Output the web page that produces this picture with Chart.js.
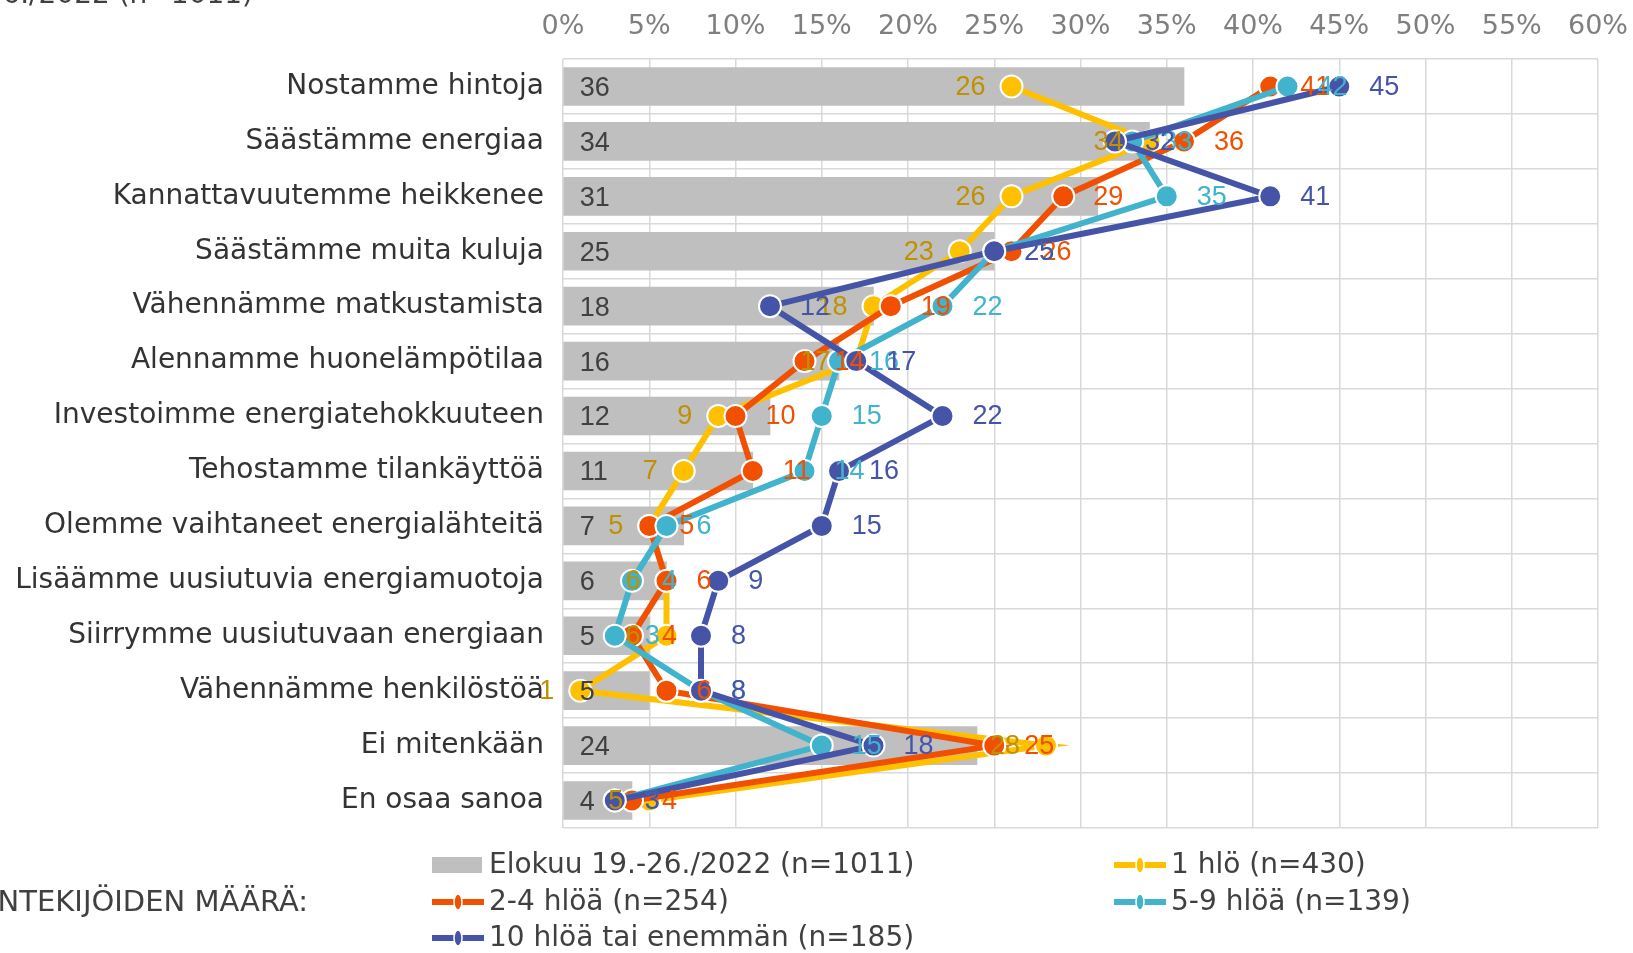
<!DOCTYPE html>
<html>
<head>
<meta charset="utf-8">
<script src="https://cdn.jsdelivr.net/npm/chart.js@4.4.0/dist/chart.umd.min.js"></script>
<style>
  html, body { margin: 0; padding: 0; background: #fff; }
  #wrap { width: 1633px; height: 953px; position: relative; }
</style>
</head>
<body>
<div id="wrap"><canvas id="chart"></canvas></div>
<script>
// categories (top to bottom)
const categories = [
    'Nostamme hintoja',
    'Säästämme energiaa',
    'Kannattavuutemme heikkenee',
    'Säästämme muita kuluja',
    'Vähennämme matkustamista',
    'Alennamme huonelämpötilaa',
    'Investoimme energiatehokkuuteen',
    'Tehostamme tilankäyttöä',
    'Olemme vaihtaneet energialähteitä',
    'Lisäämme uusiutuvia energiamuotoja',
    'Siirrymme uusiutuvaan energiaan',
    'Vähennämme henkilöstöä',
    'Ei mitenkään',
    'En osaa sanoa'
];

// series values (%)
const allFirms   = [36, 34, 31, 25, 18, 16, 12, 11, 7, 6, 5, 5, 24, 4];
const size1      = [26, 34, 26, 23, 18, 17, 9, 7, 5, 6, 6, 1, 28, 5];
const size2to4   = [41, 36, 29, 26, 19, 14, 10, 11, 5, 6, 4, 6, 25, 4];
const size5to9   = [42, 33, 35, 25, 22, 16, 15, 14, 6, 4, 3, 8, 15, 3];
const size10plus = [45, 32, 41, 25, 12, 17, 22, 16, 15, 9, 8, 8, 18, 3];

const seriesNames = [
    'Elokuu 19.-26./2022 (n=1011)',
    '1 hlö (n=430)',
    '2-4 hlöä (n=254)',
    '5-9 hlöä (n=139)',
    '10 hlöä tai enemmän (n=185)'
];

const xTickValues = [0, 5, 10, 15, 20, 25, 30, 35, 40, 45, 50, 55, 60];

const topTitle = 'Elokuu 19.-26./2022 (n=1011)';
const legendTitle = 'TYÖNTEKIJÖIDEN MÄÄRÄ:';

const GRAY = '#BFBFBF';
const YELLOW = '#FFC000';
const ORANGE = '#F05000';
const CYAN = '#41B3CC';
const BLUE = '#4654A8';

function lineSet(label, data, color, labelColor, side, order) {
    return {
        type: 'line',
        label: label,
        data: data,
        indexAxis: 'y',
        borderColor: color,
        backgroundColor: color,
        borderWidth: 6,
        pointRadius: 11,
        pointBorderWidth: 2,
        pointBackgroundColor: color,
        pointBorderColor: '#fff',
        tension: 0,
        fill: false,
        order: order,
        labelColor: labelColor,
        labelSide: side
    };
}

// data labels (no datalabels plugin available)
const valueLabels = {
    id: 'valueLabels',
    afterDatasetsDraw(chart) {
        const ctx = chart.ctx;
        ctx.save();
        ctx.textBaseline = 'middle';
        ctx.font = '27px "Liberation Sans", Arial, sans-serif';
        chart.data.datasets.forEach((ds, i) => {
            const meta = chart.getDatasetMeta(i);
            meta.data.forEach((el, j) => {
                const txt = String(ds.data[j]);
                if (ds.type === 'bar') {
                    ctx.fillStyle = '#404040';
                    ctx.textAlign = 'left';
                    ctx.fillText(txt, el.base + 16, el.y + 2);
                } else {
                    ctx.fillStyle = ds.labelColor;
                    if (ds.labelSide === 'left') {
                        ctx.textAlign = 'right';
                        ctx.fillText(txt, el.x - 26, el.y + 1);
                    } else {
                        ctx.textAlign = 'left';
                        ctx.fillText(txt, el.x + 30, el.y + 1);
                    }
                }
            });
        });
        ctx.restore();
    }
};

// legend + loose texts
const customLegend = {
    id: 'customLegend',
    afterDraw(chart) {
        const ctx = chart.ctx;
        const ds = chart.data.datasets;
        const cols = [432, 1114];
        const rows = [865, 902, 938];
        const slots = [[0, 0], [1, 0], [0, 1], [1, 1], [0, 2]];
        ctx.save();
        ctx.font = '28px "DejaVu Sans", Verdana, sans-serif';
        ctx.textBaseline = 'middle';
        ctx.textAlign = 'left';
        ds.forEach((d, i) => {
            const x = cols[slots[i][0]];
            const y = rows[slots[i][1]];
            if (d.type === 'bar') {
                ctx.fillStyle = GRAY;
                ctx.fillRect(x, y - 8, 50, 16);
            } else {
                ctx.strokeStyle = d.borderColor;
                ctx.lineWidth = 6;
                ctx.beginPath();
                ctx.moveTo(x, y);
                ctx.lineTo(x + 52, y);
                ctx.stroke();
                ctx.fillStyle = d.borderColor;
                ctx.strokeStyle = '#fff';
                ctx.lineWidth = 1.5;
                ctx.beginPath();
                ctx.ellipse(x + 26, y, 4, 8, 0, 0, Math.PI * 2);
                ctx.fill();
                ctx.stroke();
            }
            ctx.fillStyle = '#404040';
            ctx.fillText(d.label, x + 57, y + 1);
        });
        ctx.textAlign = 'right';
        ctx.font = '29px "DejaVu Sans", Verdana, sans-serif';
        ctx.fillText(legendTitle, 308, 903);
        ctx.font = '28px "DejaVu Sans", Verdana, sans-serif';
        ctx.textBaseline = 'alphabetic';
        ctx.fillText(topTitle, 253, 3);
        ctx.restore();
    }
};

const ctx = document.getElementById('chart').getContext('2d');
new Chart(ctx, {
    type: 'bar',
    data: {
        labels: categories,
        datasets: [
            {
                type: 'bar',
                label: seriesNames[0],
                data: allFirms,
                backgroundColor: GRAY,
                barThickness: 38,
                order: 5
            },
            lineSet(seriesNames[1], size1, YELLOW, '#BF9000', 'left', 4),
            lineSet(seriesNames[2], size2to4, ORANGE, ORANGE, 'right', 3),
            lineSet(seriesNames[3], size5to9, CYAN, CYAN, 'right', 2),
            lineSet(seriesNames[4], size10plus, BLUE, BLUE, 'right', 1)
        ]
    },
    options: {
        indexAxis: 'y',
        responsive: true,
        maintainAspectRatio: false,
        animation: false,
        layout: { padding: { left: 0, right: 35, top: 0, bottom: 125 } },
        plugins: {
            legend: { display: false },
            tooltip: { enabled: false }
        },
        scales: {
            x: {
                type: 'linear',
                position: 'top',
                min: 0,
                max: 60,
                afterBuildTicks: (scale) => {
                    scale.ticks = xTickValues.map(v => ({ value: v }));
                },
                afterFit: (scale) => {
                    scale.height = 59;
                    scale.paddingLeft = 0;
                    scale.paddingRight = 0;
                },
                ticks: {
                    autoSkip: false,
                    maxRotation: 0,
                    padding: 16,
                    color: '#7F7F7F',
                    font: { family: '"DejaVu Sans", Verdana, sans-serif', size: 27 },
                    callback: (v) => v + '%'
                },
                grid: { color: '#D9D9D9', lineWidth: 1.5, drawTicks: false },
                border: { display: false }
            },
            y: {
                type: 'category',
                afterFit: (scale) => { scale.width = 563; },
                ticks: {
                    autoSkip: false,
                    padding: 19,
                    color: '#333333',
                    font: { family: '"DejaVu Sans", Verdana, sans-serif', size: 28 }
                },
                grid: { color: '#D9D9D9', lineWidth: 1.5, drawTicks: false },
                border: { display: false }
            }
        }
    },
    plugins: [valueLabels, customLegend]
});
</script>
</body>
</html>
